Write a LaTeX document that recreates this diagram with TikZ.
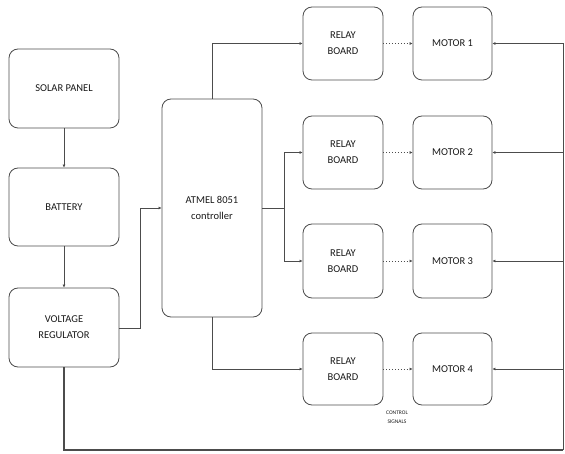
\documentclass[tikz,border=0pt]{standalone}
\usepackage{fontspec}
\setmainfont{Carlito}
\usetikzlibrary{arrows.meta}
\begin{document}
\begin{tikzpicture}[x=1pt,y=-1pt,
  blk/.style={draw=black!70,line width=0.8pt,rounded corners=9pt,align=center,
    font=\fontsize{10.5}{16}\selectfont,text=black!90,inner sep=0pt},
  conn/.style={draw=black!70,line width=0.9pt,-{Latex[length=3pt,width=3pt]}},
  dotc/.style={draw=black!70,line width=0.9pt,dotted,-{Latex[length=3pt,width=3pt]}},
  wire/.style={draw=black!70,line width=0.9pt}]
\useasboundingbox (0,0) rectangle (565,454);
% power chain
\node[blk,minimum width=110pt,minimum height=79pt] (solar) at (64,88.5) {SOLAR PANEL};
\node[blk,minimum width=110pt,minimum height=78pt] (bat) at (64,207) {BATTERY};
\node[blk,minimum width=110pt,minimum height=79pt] (reg) at (64,327.5) {VOLTAGE\\REGULATOR};
\node[blk,minimum width=100pt,minimum height=218pt] (ctrl) at (212,208) {ATMEL 8051\\controller};
% relays
\node[blk,minimum width=80pt,minimum height=73pt] (r1) at (343,43.5) {RELAY\\BOARD};
\node[blk,minimum width=80pt,minimum height=73pt] (r2) at (343,152.5) {RELAY\\BOARD};
\node[blk,minimum width=80pt,minimum height=74pt] (r3) at (343,261) {RELAY\\BOARD};
\node[blk,minimum width=80pt,minimum height=72pt] (r4) at (343,369) {RELAY\\BOARD};
% motors
\node[blk,minimum width=79pt,minimum height=73pt] (m1) at (452.5,43.5) {MOTOR 1};
\node[blk,minimum width=79pt,minimum height=73pt] (m2) at (452.5,152.5) {MOTOR 2};
\node[blk,minimum width=79pt,minimum height=74pt] (m3) at (452.5,261) {MOTOR 3};
\node[blk,minimum width=79pt,minimum height=72pt] (m4) at (452.5,369) {MOTOR 4};
\node[font=\fontsize{5.5}{9}\selectfont,text=black!90,align=center,inner sep=0pt] (cs) at (397,417) {CONTROL\\SIGNALS};
% coordinates
\coordinate (e1) at (563,43.5);
\coordinate (e2) at (563,152.5);
\coordinate (e3) at (563,261);
\coordinate (e4) at (563,369);
\coordinate (br) at (563,450);
\coordinate (bl) at (64,450);
\coordinate (vx) at (140,328);
\coordinate (hx) at (284,208);
% connections
\draw[conn] (solar) -- (bat);
\draw[conn] (bat) -- (reg);
\draw[conn] (reg.east |- vx) -- (vx) |- (ctrl.west |- hx);
\draw[conn] (ctrl.north) |- (r1.west);
\draw[wire] (ctrl.east |- hx) -- (hx);
\draw[conn] (hx) |- (r2.west);
\draw[conn] (hx) |- (r3.west);
\draw[conn] (ctrl.south) |- (r4.west);
\draw[dotc] (r1) -- (m1);
\draw[dotc] (r2) -- (m2);
\draw[dotc] (r3) -- (m3);
\draw[dotc] (r4) -- (m4);
\draw[conn] (e1) -- (m1.east);
\draw[conn] (e2) -- (m2.east);
\draw[conn] (e3) -- (m3.east);
\draw[conn] (e4) -- (m4.east);
\draw[wire] (e1) -- (br);
\draw[draw=black!70,line width=1.8pt] (reg.south) -- (bl) -- (br);
\end{tikzpicture}
\end{document}
